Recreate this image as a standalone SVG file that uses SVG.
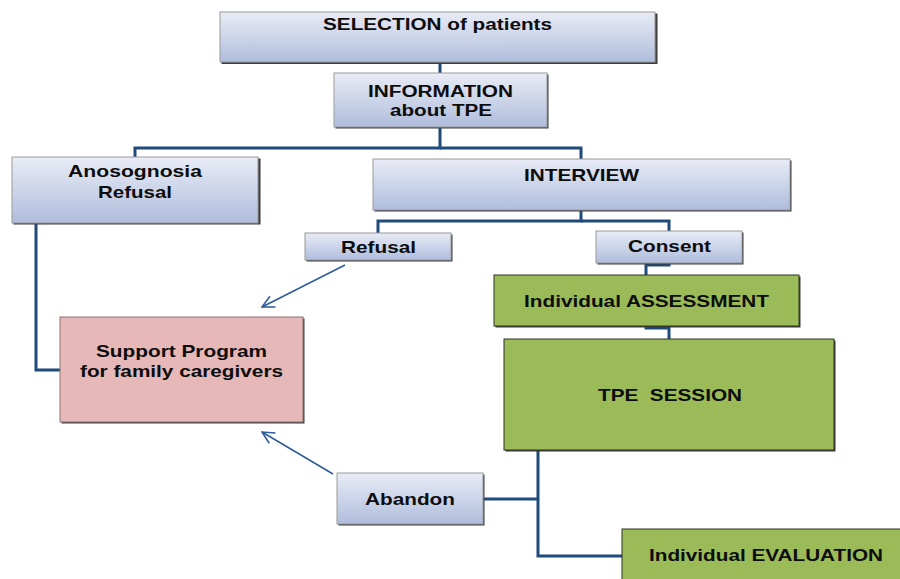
<svg xmlns="http://www.w3.org/2000/svg" width="900" height="579" viewBox="0 0 900 579">
<defs>
<linearGradient id="bg" x1="0" y1="0" x2="0" y2="1">
<stop offset="0" stop-color="#e9ecf6"/>
<stop offset="1" stop-color="#afbddc"/>
</linearGradient>
<marker id="open" viewBox="0 0 14 14" refX="13" refY="7" markerWidth="14" markerHeight="14" markerUnits="userSpaceOnUse" orient="auto">
<path d="M1,1 L13,7 L1,13" fill="none" stroke="#2d5c99" stroke-width="1.5"/>
</marker>
<style>
.blue{fill:url(#bg);stroke:#9a9a9a;stroke-width:1}
.green{fill:#9bbb59;stroke:#2c3520;stroke-width:1}
.pink{fill:#e6b8b7;stroke:#8c7272;stroke-width:1}
.sh{fill:#3c3c40}
.t{font-family:"Liberation Sans",Arial,sans-serif;font-weight:bold;font-size:17px;fill:#0d0d0d;text-anchor:middle}
.s{font-size:16px}
.c{fill:none;stroke:#1f4a7c;stroke-width:3;stroke-linejoin:miter}
.a{fill:none;stroke:#2d5c99;stroke-width:1.5}
</style>
</defs>
<rect width="900" height="579" fill="#ffffff"/>
<g id="connectors">
<path class="c" d="M440,62 V73"/>
<path class="c" d="M440,127 V148 H135 V157"/>
<path class="c" d="M440,148 H581 V159"/>
<path class="c" d="M581,210 V221 H378 V233"/>
<path class="c" d="M581,221 H669 V231"/>
<path class="c" d="M669,263 V265 H646 V275"/>
<path class="c" d="M646,326 V328 H669 V339"/>
<path class="c" d="M538,450 V556 H622"/>
<path class="c" d="M538,499 H483"/>
<path class="c" d="M36,224 V370 H60"/>
<path class="a" d="M345,265 L262,307" marker-end="url(#open)"/>
<path class="a" d="M333,474 L262,432" marker-end="url(#open)"/>
</g>
<g id="selection">
<rect class="sh" x="221.5" y="13.5" width="436" height="50.5"/>
<rect class="blue" x="220" y="12" width="435" height="50"/>
<text class="t" x="437.5" y="30" textLength="229" lengthAdjust="spacingAndGlyphs">SELECTION of patients</text>
</g>
<g id="information">
<rect class="sh" x="335.5" y="74.5" width="213" height="54"/>
<rect class="blue" x="334" y="73" width="213" height="54"/>
<text class="t s" x="440.5" y="96.5" textLength="145" lengthAdjust="spacingAndGlyphs">INFORMATION</text>
<text class="t s" x="441" y="115.5" textLength="102" lengthAdjust="spacingAndGlyphs">about TPE</text>
</g>
<g id="anosognosia">
<rect class="sh" x="13.5" y="158.5" width="247" height="66"/>
<rect class="blue" x="12" y="157" width="246" height="66"/>
<text class="t" x="135" y="177" textLength="134" lengthAdjust="spacingAndGlyphs">Anosognosia</text>
<text class="t" x="135" y="198" textLength="74" lengthAdjust="spacingAndGlyphs">Refusal</text>
</g>
<g id="interview">
<rect class="sh" x="374.5" y="160.5" width="417" height="51"/>
<rect class="blue" x="373" y="159" width="417" height="51"/>
<text class="t" x="581.5" y="181" textLength="115" lengthAdjust="spacingAndGlyphs">INTERVIEW</text>
</g>
<g id="refusal">
<rect class="sh" x="306.5" y="234.5" width="146" height="27"/>
<rect class="blue" x="305" y="233" width="146" height="27"/>
<text class="t" x="378.5" y="253" textLength="75" lengthAdjust="spacingAndGlyphs">Refusal</text>
</g>
<g id="consent">
<rect class="sh" x="597.5" y="232.5" width="146" height="32"/>
<rect class="blue" x="596" y="231" width="146" height="32"/>
<text class="t" x="669.5" y="252" textLength="83" lengthAdjust="spacingAndGlyphs">Consent</text>
</g>
<g id="assessment">
<rect class="sh" x="495.5" y="276.5" width="305" height="51"/>
<rect class="green" x="494" y="275" width="305" height="51"/>
<text class="t" x="646.5" y="307" textLength="245" lengthAdjust="spacingAndGlyphs">Individual ASSESSMENT</text>
</g>
<g id="tpe-session">
<rect class="sh" x="505.5" y="340.5" width="330" height="111"/>
<rect class="green" x="504" y="339" width="330" height="111"/>
<text class="t" x="670" y="401" textLength="144" lengthAdjust="spacingAndGlyphs" xml:space="preserve">TPE  SESSION</text>
</g>
<g id="support">
<rect class="sh" x="61.5" y="318.5" width="243" height="105"/>
<rect class="pink" x="60" y="317" width="243" height="105"/>
<text class="t" x="181.5" y="357" textLength="171" lengthAdjust="spacingAndGlyphs">Support Program</text>
<text class="t" x="181.5" y="377" textLength="203" lengthAdjust="spacingAndGlyphs">for family caregivers</text>
</g>
<g id="abandon">
<rect class="sh" x="338.5" y="474.5" width="146" height="51"/>
<rect class="blue" x="337" y="473" width="146" height="51"/>
<text class="t" x="410" y="505" textLength="90" lengthAdjust="spacingAndGlyphs">Abandon</text>
</g>
<g id="evaluation">
<rect class="sh" x="623.5" y="530.5" width="290" height="60"/>
<rect class="green" x="622" y="529" width="290" height="60"/>
<text class="t" x="766" y="561" textLength="234" lengthAdjust="spacingAndGlyphs">Individual EVALUATION</text>
</g>
</svg>
